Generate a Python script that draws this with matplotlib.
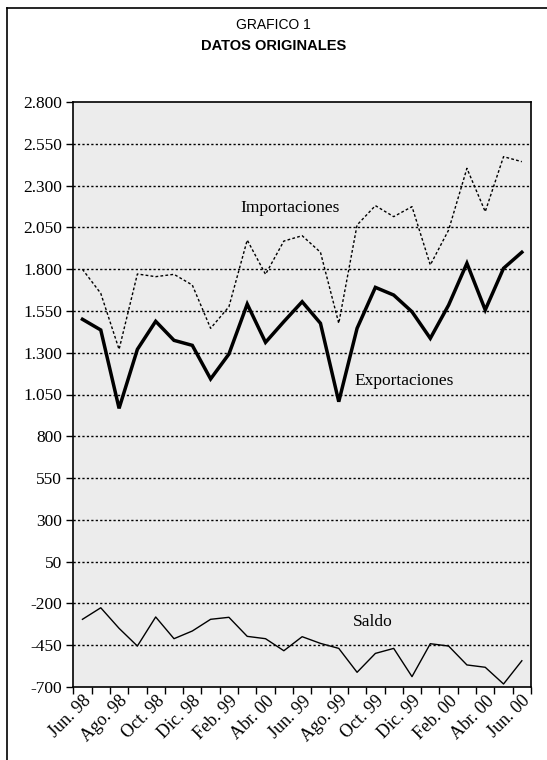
import numpy as np
import matplotlib.pyplot as plt
from matplotlib.lines import Line2D
from matplotlib.ticker import FuncFormatter

# --- Data (millones, mensual Jun. 98 - Jun. 00) ---
exportaciones = [1500, 1436, 967, 1320, 1488, 1374, 1344, 1143, 1292, 1591,
                 1362, 1486, 1605, 1476, 1007, 1446, 1691, 1645, 1545, 1386,
                 1585, 1835, 1556, 1805, 1901]
importaciones = [1799, 1655, 1320, 1771, 1755, 1769, 1705, 1446, 1575, 1974,
                 1769, 1968, 2000, 1901, 1476, 2064, 2180, 2114, 2174, 1825,
                 2034, 2403, 2144, 2473, 2443]
saldo = [-295, -226, -349, -455, -281, -411, -365, -295, -283, -397,
         -411, -483, -399, -439, -469, -612, -499, -469, -638, -441,
         -455, -568, -582, -682, -543]
tick_labels = ["Jun. 98", "Ago. 98", "Oct. 98", "Dic. 98", "Feb. 99", "Abr. 00",
               "Jun. 99", "Ago. 99", "Oct. 99", "Dic. 99", "Feb. 00", "Abr. 00",
               "Jun. 00"]
y_ticks = np.arange(-700, 2801, 250)

serif = ["Liberation Serif", "DejaVu Serif"]
narrow = ["Liberation Sans Narrow", "Liberation Sans", "DejaVu Sans"]
fs = 12.5

fig = plt.figure(figsize=(5.47, 7.6), dpi=100)
W, H = 547, 760
ax = fig.add_axes([73.3 / W, 1 - 687 / H, (531 - 73.3) / W, (687 - 102) / H])
ax.set_facecolor("#ececec")

n = len(exportaciones)
x = np.arange(n)

ax.plot(x, importaciones, color="black", lw=1.0, linestyle=(0, (2, 1.6)))
ax.plot(x, exportaciones, color="black", lw=2.5, solid_joinstyle="miter")
ax.plot(x, saldo, color="black", lw=1.0)

# grid
for v in y_ticks[1:-1]:
    ax.axhline(v, color="black", lw=1.0, linestyle=(0, (1.6, 1.6)), zorder=0.5)

ax.set_xlim(-0.5, n - 0.5)
ax.set_ylim(-700, 2800)
ax.set_yticks(y_ticks)
ax.yaxis.set_major_formatter(FuncFormatter(lambda v, p: f"{int(v):,}".replace(",", ".")))
ax.set_xticks(np.arange(-0.5, n, 1.0))
ax.set_xticklabels([])
ax.set_xticks(np.arange(0, n, 2), minor=True)
ax.set_xticklabels(tick_labels, minor=True, rotation=45, ha="right", va="top",
                   rotation_mode="anchor", family=serif, fontsize=13)
ax.tick_params(axis="x", which="minor", length=0, pad=4)
ax.tick_params(axis="x", which="major", length=5, width=1, direction="out")
ax.tick_params(axis="y", length=5, width=1, direction="out", pad=3)
for lab in ax.get_yticklabels():
    lab.set_family(serif)
    lab.set_fontsize(fs)
for s in ax.spines.values():
    s.set_linewidth(1.2)
    s.set_color("black")

ax.text(8.6, 2166, "Importaciones", family=serif, fontsize=fs, va="center")
ax.text(14.83, 1131, "Exportaciones", family=serif, fontsize=fs, va="center")
ax.text(14.77, -311, "Saldo", family=serif, fontsize=fs, va="center")

fig.text(0.5, 1 - 25 / H, "GRAFICO 1", family=narrow, fontsize=10, ha="center", va="center")
fig.text(0.5, 1 - 46 / H, "DATOS ORIGINALES", family=narrow, fontsize=10.5,
         weight="bold", ha="center", va="center")

# outer frame
fig.add_artist(Line2D([7 / W, 7 / W], [0, 1 - 8 / H], color="black", lw=1.2))
fig.add_artist(Line2D([7 / W, 1], [1 - 8 / H, 1 - 8 / H], color="black", lw=1.2))

fig.savefig("out.png", dpi=100)
